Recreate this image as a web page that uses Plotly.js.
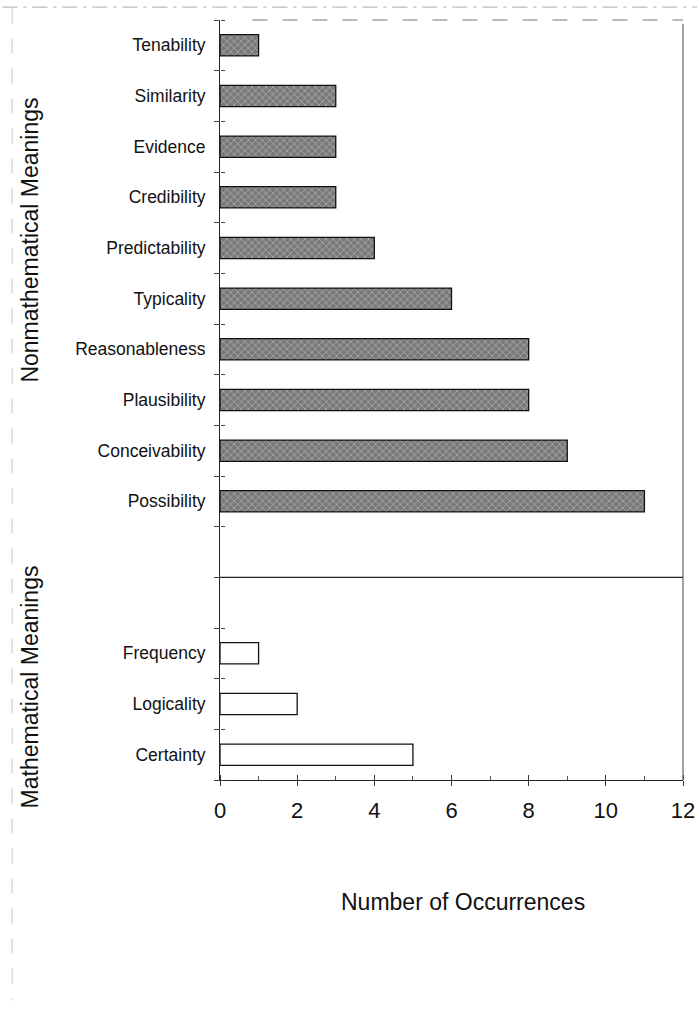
<!DOCTYPE html>
<html>
<head>
<meta charset="utf-8">
<script src="https://cdn.plot.ly/plotly-2.35.2.min.js"></script>
<style>html,body{margin:0;padding:0;background:#fff;}#chart{width:699px;height:1009px;}</style>
</head>
<body>
<div id="chart"></div>
<script>
// ---- data ----
const nonmathLabels = ["Tenability","Similarity","Evidence","Credibility","Predictability","Typicality","Reasonableness","Plausibility","Conceivability","Possibility"];
const nonmathValues = [1,3,3,3,4,6,8,8,9,11];
const mathLabels = ["Frequency","Logicality","Certainty"];
const mathValues = [1,2,5];
const xTickValues = [0,2,4,6,8,10,12];
const groupTitles = ["Nonmathematical Meanings","Mathematical Meanings"];
const xTitle = "Number of Occurrences";

// ---- positions (slot index, top to bottom) ----
const gapSlots = 2;
const nonmathPos = nonmathLabels.map((_, i) => i);
const mathPos = mathLabels.map((_, i) => i + nonmathLabels.length + gapSlots);
const nSlots = nonmathLabels.length + gapSlots + mathLabels.length;
const boundaries = [];
for (let k = 0; k <= nSlots; k++) boundaries.push(k - 0.5);
const sepY = nonmathLabels.length - 0.5 + gapSlots / 2;

const FONT = "Liberation Sans, Arial, Helvetica, sans-serif";

const traces = [
  {
    type: "bar", orientation: "h",
    x: nonmathValues, y: nonmathPos, width: 0.42,
    marker: {
      color: "#808080",
      line: {color: "#111", width: 1.3},
      pattern: {shape: "x", fgcolor: "#b4b4b4", bgcolor: "#7a7a7a", size: 5, solidity: 0.25}
    },
    hoverinfo: "x", showlegend: false
  },
  {
    type: "bar", orientation: "h",
    x: mathValues, y: mathPos, width: 0.42,
    marker: {color: "#ffffff", line: {color: "#111", width: 1.3}},
    hoverinfo: "x", showlegend: false
  },
  {type: "scatter", x: [null], y: [null], yaxis: "y2", showlegend: false, hoverinfo: "skip"},
  {type: "scatter", x: [null], y: [null], yaxis: "y3", showlegend: false, hoverinfo: "skip"},
  {type: "scatter", x: [null], y: [null], xaxis: "x2", showlegend: false, hoverinfo: "skip"}
];

const yTickAxis = (side, len) => ({
  overlaying: "y", side: side, anchor: "free", position: 0,
  range: [nSlots - 0.5, -0.5],
  tickvals: boundaries, ticktext: boundaries.map(() => ""),
  ticks: "outside", ticklen: len, tickcolor: "#444", tickwidth: 1,
  showgrid: false, zeroline: false, showline: false,
  fixedrange: true
});

const layout = {
  width: 699, height: 1009,
  margin: {l: 220, r: 16, t: 20, b: 229},
  paper_bgcolor: "#fff", plot_bgcolor: "#fff",
  font: {family: FONT, color: "#111"},
  bargap: 0,
  xaxis: {
    range: [0, 12], tickvals: xTickValues, ticktext: xTickValues.map(String),
    showgrid: false, zeroline: false,
    showline: true, linecolor: "#222", linewidth: 1,
    ticks: "outside", ticklen: 5, tickcolor: "#333", tickwidth: 1,
    minor: {dtick: 1, ticks: "inside", ticklen: 4, tickcolor: "#555", tickwidth: 1, showgrid: false},
    tickfont: {size: 22, family: FONT, color: "#111"},
    ticklabelstandoff: 6,
    fixedrange: true
  },
  xaxis2: {
    overlaying: "x", side: "top", anchor: "free", position: 0,
    range: [0, 12], tickvals: xTickValues, ticktext: xTickValues.map(() => ""),
    ticks: "outside", ticklen: 5, tickcolor: "#333", tickwidth: 1,
    showgrid: false, zeroline: false, showline: false, fixedrange: true
  },
  yaxis: {
    range: [nSlots - 0.5, -0.5],
    tickvals: nonmathPos.concat(mathPos),
    ticktext: nonmathLabels.concat(mathLabels),
    ticks: "", showgrid: false, zeroline: false,
    showline: true, linecolor: "#222", linewidth: 1,
    tickfont: {size: 17.5, family: FONT, color: "#111"},
    ticklabelstandoff: 10,
    fixedrange: true
  },
  yaxis2: yTickAxis("left", 6),
  yaxis3: yTickAxis("right", 4),
  shapes: [
    {type: "line", xref: "paper", yref: "y", x0: 0, x1: 1, y0: sepY, y1: sepY,
     line: {color: "#222", width: 1.2}},
    {type: "line", xref: "paper", yref: "paper", x0: 1, x1: 1, y0: 0, y1: 0.995,
     line: {color: "#444", width: 1}},
    {type: "line", xref: "paper", yref: "paper", x0: 0.07, x1: 1, y0: 1, y1: 1,
     line: {color: "#777", width: 1, dash: "longdash"}},
    {type: "line", xref: "paper", yref: "paper", x0: -0.47, x1: 1.03, y0: 1.017, y1: 1.017,
     line: {color: "#aaa", width: 1, dash: "longdashdot"}},
    {type: "line", xref: "paper", yref: "paper", x0: -0.449, x1: -0.449, y0: 1.015, y1: -0.29,
     line: {color: "#c4c4c4", width: 1, dash: "longdash"}}
  ],
  annotations: [
    {text: groupTitles[0], xref: "paper", yref: "paper", x: -0.41, y: 0.71,
     textangle: -90, showarrow: false, xanchor: "center", yanchor: "middle",
     font: {size: 23, family: FONT, color: "#111"}},
    {text: groupTitles[1], xref: "paper", yref: "paper", x: -0.41, y: 0.122,
     textangle: -90, showarrow: false, xanchor: "center", yanchor: "middle",
     font: {size: 23, family: FONT, color: "#111"}},
    {text: xTitle, xref: "paper", yref: "paper", x: 0.525, y: -0.16,
     showarrow: false, xanchor: "center", yanchor: "middle",
     font: {size: 23, family: FONT, color: "#111"}}
  ]
};

Plotly.newPlot("chart", traces, layout, {displayModeBar: false, staticPlot: true});
</script>
</body>
</html>
